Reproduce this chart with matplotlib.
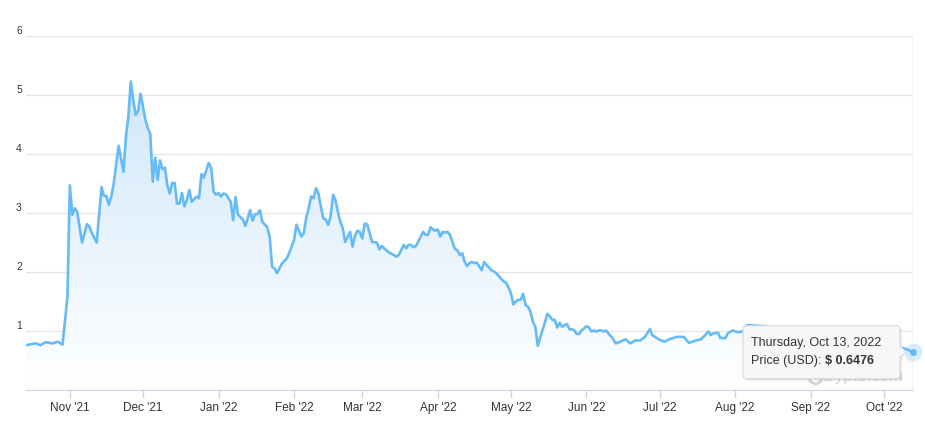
import numpy as np
import pandas as pd
import matplotlib
matplotlib.use("Agg")
import matplotlib.pyplot as plt
import matplotlib.dates as mdates
from matplotlib.colors import LinearSegmentedColormap
from matplotlib.patches import FancyBboxPatch, Polygon
from matplotlib.transforms import IdentityTransform

# daily close (USD)
dates = [
    "2021-10-14", "2021-10-18", "2021-10-20", "2021-10-22", "2021-10-25", "2021-10-27", "2021-10-29",
    "2021-10-31", "2021-11-01", "2021-11-02", "2021-11-03", "2021-11-04", "2021-11-06", "2021-11-08",
    "2021-11-09", "2021-11-10", "2021-11-12", "2021-11-14", "2021-11-15", "2021-11-16", "2021-11-17",
    "2021-11-18", "2021-11-19", "2021-11-21", "2021-11-23", "2021-11-24", "2021-11-25", "2021-11-26",
    "2021-11-27", "2021-11-28", "2021-11-29", "2021-11-30", "2021-12-02", "2021-12-03", "2021-12-04",
    "2021-12-05", "2021-12-06", "2021-12-07", "2021-12-08", "2021-12-09", "2021-12-10", "2021-12-11",
    "2021-12-12", "2021-12-13", "2021-12-14", "2021-12-15", "2021-12-16", "2021-12-17", "2021-12-18",
    "2021-12-19", "2021-12-20", "2021-12-21", "2021-12-23", "2021-12-24", "2021-12-25", "2021-12-26",
    "2021-12-28", "2021-12-29", "2021-12-30", "2021-12-31", "2022-01-01", "2022-01-02", "2022-01-03",
    "2022-01-04", "2022-01-06", "2022-01-07", "2022-01-08", "2022-01-09", "2022-01-11", "2022-01-12",
    "2022-01-14", "2022-01-15", "2022-01-16", "2022-01-17", "2022-01-18", "2022-01-19", "2022-01-21",
    "2022-01-22", "2022-01-23", "2022-01-24", "2022-01-25", "2022-01-27", "2022-01-29", "2022-01-30",
    "2022-02-01", "2022-02-02", "2022-02-04", "2022-02-05", "2022-02-06", "2022-02-07", "2022-02-08",
    "2022-02-09", "2022-02-10", "2022-02-11", "2022-02-12", "2022-02-13", "2022-02-14", "2022-02-15",
    "2022-02-16", "2022-02-17", "2022-02-18", "2022-02-19", "2022-02-20", "2022-02-21", "2022-02-22",
    "2022-02-24", "2022-02-25", "2022-02-26", "2022-02-27", "2022-02-28", "2022-03-01", "2022-03-02",
    "2022-03-03", "2022-03-04", "2022-03-05", "2022-03-07", "2022-03-08", "2022-03-09", "2022-03-10",
    "2022-03-12", "2022-03-13", "2022-03-15", "2022-03-16", "2022-03-18", "2022-03-19", "2022-03-20",
    "2022-03-21", "2022-03-22", "2022-03-23", "2022-03-25", "2022-03-26", "2022-03-27", "2022-03-28",
    "2022-03-29", "2022-03-30", "2022-03-31", "2022-04-01", "2022-04-02", "2022-04-03", "2022-04-04",
    "2022-04-05", "2022-04-06", "2022-04-07", "2022-04-08", "2022-04-09", "2022-04-10", "2022-04-11",
    "2022-04-12", "2022-04-13", "2022-04-14", "2022-04-15", "2022-04-16", "2022-04-17", "2022-04-19",
    "2022-04-20", "2022-04-21", "2022-04-23", "2022-04-24", "2022-04-25", "2022-04-26", "2022-04-28",
    "2022-04-29", "2022-04-30", "2022-05-01", "2022-05-02", "2022-05-03", "2022-05-04", "2022-05-05",
    "2022-05-06", "2022-05-07", "2022-05-08", "2022-05-09", "2022-05-10", "2022-05-11", "2022-05-12",
    "2022-05-14", "2022-05-16", "2022-05-17", "2022-05-18", "2022-05-19", "2022-05-20", "2022-05-21",
    "2022-05-22", "2022-05-23", "2022-05-24", "2022-05-25", "2022-05-26", "2022-05-27", "2022-05-28",
    "2022-05-29", "2022-05-30", "2022-06-01", "2022-06-02", "2022-06-03", "2022-06-04", "2022-06-05",
    "2022-06-06", "2022-06-07", "2022-06-08", "2022-06-09", "2022-06-10", "2022-06-12", "2022-06-13",
    "2022-06-15", "2022-06-17", "2022-06-19", "2022-06-21", "2022-06-23", "2022-06-25", "2022-06-27",
    "2022-06-28", "2022-07-01", "2022-07-03", "2022-07-05", "2022-07-08", "2022-07-11", "2022-07-13",
    "2022-07-16", "2022-07-18", "2022-07-19", "2022-07-21", "2022-07-22", "2022-07-23", "2022-07-25",
    "2022-07-26", "2022-07-28", "2022-07-29", "2022-07-31", "2022-08-02", "2022-08-04", "2022-08-06",
    "2022-08-14", "2022-08-20", "2022-08-26", "2022-09-01", "2022-09-08", "2022-09-15", "2022-09-22",
    "2022-09-29", "2022-10-05", "2022-10-09", "2022-10-13",
]
prices = [
    0.76, 0.79, 0.76, 0.81, 0.79, 0.82, 0.77,
    1.58, 3.47, 2.97, 3.08, 3.02, 2.50, 2.81,
    2.77, 2.66, 2.50, 3.44, 3.29, 3.29, 3.14,
    3.28, 3.50, 4.14, 3.70, 4.29, 4.63, 5.23,
    4.92, 4.66, 4.73, 5.02, 4.58, 4.44, 4.34,
    3.53, 3.94, 3.56, 3.89, 3.74, 3.77, 3.47,
    3.33, 3.51, 3.51, 3.16, 3.16, 3.34, 3.11,
    3.22, 3.39, 3.19, 3.28, 3.25, 3.66, 3.60,
    3.85, 3.76, 3.36, 3.31, 3.34, 3.28, 3.33,
    3.32, 3.19, 2.88, 3.27, 2.97, 2.89, 2.78,
    3.05, 2.87, 2.98, 2.98, 3.05, 2.85, 2.76,
    2.60, 2.09, 2.06, 1.98, 2.14, 2.23, 2.32,
    2.54, 2.80, 2.60, 2.66, 2.92, 3.08, 3.28,
    3.25, 3.42, 3.33, 3.11, 2.91, 2.89, 2.80,
    2.94, 3.31, 3.22, 3.02, 2.85, 2.74, 2.51,
    2.68, 2.43, 2.61, 2.70, 2.68, 2.57, 2.82,
    2.81, 2.66, 2.51, 2.50, 2.38, 2.44, 2.40,
    2.33, 2.31, 2.26, 2.29, 2.46, 2.40, 2.46,
    2.46, 2.42, 2.44, 2.60, 2.68, 2.63, 2.63,
    2.76, 2.72, 2.70, 2.72, 2.60, 2.68, 2.67,
    2.68, 2.63, 2.51, 2.39, 2.37, 2.29, 2.32,
    2.17, 2.10, 2.15, 2.17, 2.15, 2.16, 2.03,
    2.17, 2.12, 2.03, 2.01, 1.98, 1.93, 1.84,
    1.82, 1.74, 1.64, 1.45, 1.50, 1.53, 1.53,
    1.63, 1.44, 1.41, 1.33, 1.16, 1.07, 0.75,
    1.02, 1.29, 1.25, 1.19, 1.19, 1.06, 1.14,
    1.07, 1.10, 1.12, 1.03, 1.03, 1.01, 0.95,
    0.95, 1.01, 1.08, 1.06, 0.99, 1.01, 0.99,
    1.01, 1.01, 0.99, 1.01, 0.96, 0.86, 0.79,
    0.82, 0.86, 0.79, 0.84, 0.84, 0.90, 1.03,
    0.93, 0.85, 0.82, 0.86, 0.90, 0.90, 0.80,
    0.84, 0.86, 0.90, 0.99, 0.93, 0.96, 0.97,
    0.88, 0.88, 0.96, 1.01, 0.98, 0.99, 1.10,
    1.08, 0.95, 0.90, 0.85, 0.88, 0.80, 0.76,
    0.74, 0.73, 0.71, 0.6476,
]

month_ticks = pd.date_range("2021-11-01", "2022-10-01", freq="MS")
month_labels = [d.strftime("%b '%y") for d in month_ticks]
y_ticks = [1, 2, 3, 4, 5, 6]
hover_label = "Thursday, Oct 13, 2022"
hover_price = 0.6476

LINE = "#66bbf7"
TEXT = "#333333"
plt.rcParams["font.family"] = ["Liberation Sans", "DejaVu Sans"]

fig = plt.figure(figsize=(9.25, 4.34), dpi=100)
ax = fig.add_axes([26 / 925, 44 / 434, 887 / 925, 354 / 434])

x = mdates.date2num(pd.to_datetime(dates))
y = np.array(prices)
x0, x1 = x[0], x[-1]
ax.set_xlim(x0, x1)
ax.set_ylim(0, 6)

# gradient area under the line
cmap = LinearSegmentedColormap.from_list("fade", ["#ffffff", "#c9e4fa"])
grad = ax.imshow(np.linspace(0, 1, 256).reshape(-1, 1), extent=[x0, x1, 0, 6],
                 origin="lower", aspect="auto", cmap=cmap, zorder=1)
area = Polygon(np.column_stack([np.r_[x, x1, x0], np.r_[y, 0, 0]]), closed=True,
               fc="none", ec="none")
ax.add_patch(area)
grad.set_clip_path(area)

ax.plot(x, y, color=LINE, lw=1.9, zorder=3, solid_joinstyle="round")

# crosshair + hover marker
ax.axvline(x1, color="#cccccc", lw=1, zorder=2)
ax.plot([x1], [hover_price], "o", ms=13, color=LINE, alpha=0.25, zorder=4, clip_on=False, mec="none")
ax.plot([x1], [hover_price], "o", ms=5, color=LINE, zorder=5, clip_on=False, mec="none")

# axes styling
ax.set_yticks(y_ticks)
ax.set_yticklabels([str(v) for v in y_ticks])
ax.yaxis.grid(True, color="#e6e6e6", lw=1)
ax.set_axisbelow(True)
ax.tick_params(axis="y", length=0, pad=3, labelsize=7.5, labelcolor=TEXT)
for lbl in ax.get_yticklabels():
    lbl.set_va("bottom")
ax.set_xticks(mdates.date2num(month_ticks))
ax.set_xticklabels(month_labels)
ax.tick_params(axis="x", length=6, width=1, color="#ccd6eb", pad=2.5, labelsize=8.5, labelcolor=TEXT)
for s in ["left", "top", "right"]:
    ax.spines[s].set_visible(False)
ax.spines["bottom"].set_color("#ccd6eb")

# watermark
ax.text(903 / 925, 1 - 376 / 434, "crypto.com", transform=fig.transFigure, ha="right", va="center",
        fontsize=12, color="#d6d6d6", zorder=6, clip_on=False)
ax.plot([815 / 925], [1 - 377 / 434], "o", ms=9, mfc="none", mec="#d6d6d6", mew=2,
        transform=fig.transFigure, zorder=6, clip_on=False)

# tooltip, laid out in pixels next to the hovered point (axes position is fixed)
px, py = ax.transData.transform((x1, hover_price))
pix = IdentityTransform()
bx, by, bw, bh = px - 170, py - 27, 157, 53

for i, a in enumerate([0.06, 0.04, 0.02]):
    ax.add_patch(FancyBboxPatch((bx + i + 1, by - i - 1), bw, bh,
                                boxstyle="round,pad=0,rounding_size=3", transform=pix,
                                fc="#000000", ec="none", alpha=a, zorder=7, clip_on=False))
ax.add_patch(FancyBboxPatch((bx, by), bw, bh, boxstyle="round,pad=0,rounding_size=3",
                            transform=pix, fc="#f7f7f7", ec="#d9d9d9", lw=0.8,
                            zorder=8, clip_on=False))
ax.add_patch(Polygon([[bx + bw - 0.6, py + 6], [bx + bw + 6, py], [bx + bw - 0.6, py - 6]],
                     closed=True, transform=pix, fc="#f7f7f7", ec="none", zorder=9, clip_on=False))
ax.plot([bx + bw, bx + bw + 6, bx + bw], [py + 6, py, py - 6], color="#d9d9d9", lw=0.8,
        transform=pix, zorder=9, clip_on=False)

ax.text(bx + 8, py + 9, hover_label, transform=pix, ha="left", va="center",
        fontsize=9, color=TEXT, zorder=10, clip_on=False)
t2 = ax.text(bx + 8, py - 9, "Price (USD): ", transform=pix, ha="left", va="center",
             fontsize=9, color=TEXT, zorder=10, clip_on=False)
ax.annotate(f"$ {hover_price}", xy=(1, 0.5), xycoords=t2, ha="left", va="center",
            fontsize=9, fontweight="bold", color=TEXT, zorder=10, annotation_clip=False)

fig.savefig("out.png", dpi=100)
